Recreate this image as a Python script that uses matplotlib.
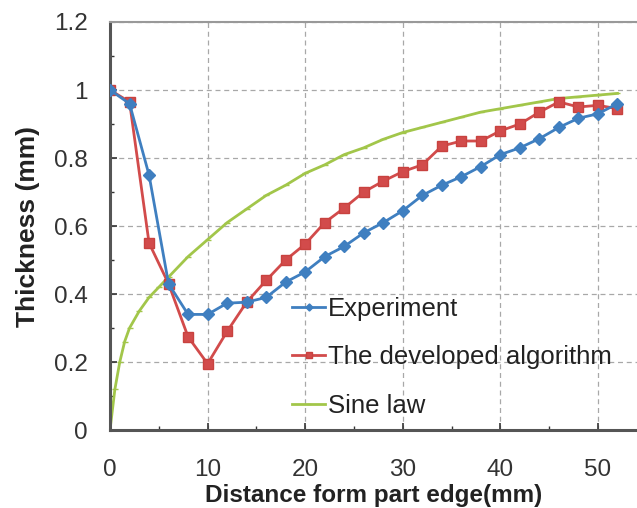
import numpy as np
import matplotlib.pyplot as plt
from matplotlib.ticker import MultipleLocator, FuncFormatter

plt.rcParams['font.family'] = ['Liberation Sans', 'DejaVu Sans']

# distances (mm)
x_pts = [0, 2, 4, 6, 8, 10, 12, 14, 16, 18, 20, 22, 24, 26, 28, 30, 32, 34,
         36, 38, 40, 42, 44, 46, 48, 50, 52]

experiment = [1.0, 0.96, 0.75, 0.43, 0.34, 0.34, 0.373, 0.376, 0.39, 0.435,
              0.465, 0.51, 0.54, 0.58, 0.61, 0.645, 0.69, 0.72, 0.745, 0.775,
              0.81, 0.83, 0.857, 0.89, 0.917, 0.93, 0.96]

algorithm = [1.0, 0.965, 0.55, 0.43, 0.274, 0.195, 0.29, 0.376, 0.44, 0.50,
             0.547, 0.61, 0.653, 0.70, 0.732, 0.76, 0.78, 0.835, 0.85, 0.85,
             0.88, 0.90, 0.935, 0.965, 0.95, 0.955, 0.945]

x_sine = [0, 0.5, 1, 1.5, 2, 3, 4, 5, 6, 8, 10, 12, 14, 16, 18, 20, 22, 24,
          26, 28, 30, 32, 34, 36, 38, 40, 42, 44, 46, 48, 50, 52]
sine_law = [0.0, 0.12, 0.2, 0.26, 0.30, 0.35, 0.39, 0.42, 0.45, 0.51, 0.56,
            0.61, 0.65, 0.69, 0.72, 0.755, 0.78, 0.81, 0.83, 0.855, 0.875,
            0.89, 0.905, 0.92, 0.935, 0.945, 0.955, 0.965, 0.975, 0.98,
            0.985, 0.99]

fig = plt.figure(figsize=(6.37, 5.08), dpi=100)
ax = fig.add_axes([0.1727, 0.1535, 0.8273, 0.8032])

ax.plot(x_sine, sine_law, color="#a2c64a", lw=2, marker="_", ms=4,
        label="Sine law", zorder=2)
ax.plot(x_pts, algorithm, color="#d24b4b", lw=2, marker="s", ms=7,
        mec="#c8423f", label="The developed algorithm", zorder=3)
ax.plot(x_pts, experiment, color="#3f7fc0", lw=2, marker="D", ms=6,
        label="Experiment", zorder=4)

ax.set_xlim(0, 54)
ax.set_ylim(0, 1.2)
ax.xaxis.set_major_locator(MultipleLocator(10))
ax.xaxis.set_minor_locator(MultipleLocator(5))
ax.yaxis.set_major_locator(MultipleLocator(0.2))
ax.yaxis.set_minor_locator(MultipleLocator(0.1))
ax.yaxis.set_major_formatter(FuncFormatter(lambda v, p: "%g" % round(v, 1)))

ax.grid(True, which="major", ls=(0, (4, 3)), color="#a8a8a8", lw=0.9)
ax.tick_params(which="both", direction="in", labelsize=17.5, color="#333333",
               labelcolor="#333333")
ax.tick_params(which="major", length=5, width=1.2)
ax.tick_params(which="minor", length=3, width=1)
ax.tick_params(axis="x", pad=21)
ax.tick_params(axis="y", pad=16)

for s in ["left", "bottom"]:
    ax.spines[s].set_linewidth(2.2)
    ax.spines[s].set_color("#555555")
ax.spines["top"].set_color("#999999")
ax.spines["top"].set_linewidth(1.5)
ax.spines["right"].set_visible(False)

ax.set_xlabel("Distance form part edge(mm)", fontsize=17.5, fontweight="bold",
              labelpad=2, color="#222222")
ax.set_ylabel("Thickness (mm)", fontsize=19, fontweight="bold", labelpad=10,
              color="#222222")

h, l = ax.get_legend_handles_labels()
ax.legend(h[::-1], l[::-1], loc="lower left", bbox_to_anchor=(0.345, 0.03),
          frameon=False, fontsize=18.5, handlelength=1.3, handletextpad=0.1,
          labelspacing=0.95, markerscale=0.6, borderpad=0, borderaxespad=0,
          labelcolor="#222222")

fig.savefig("out.png", dpi=100)
